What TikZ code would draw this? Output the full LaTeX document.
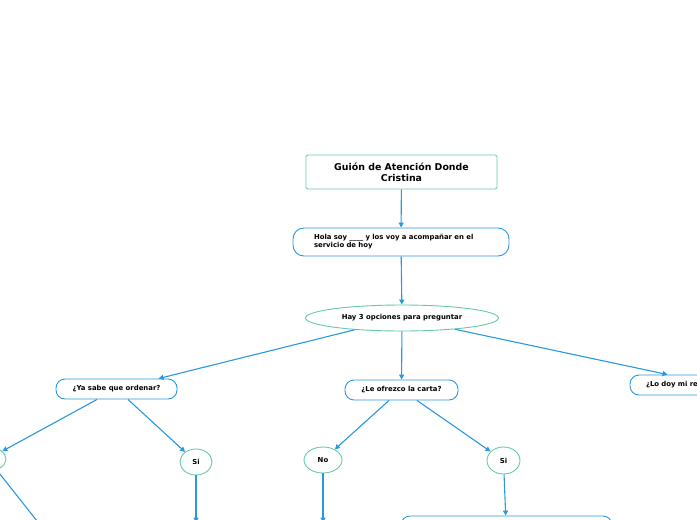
\documentclass[tikz,border=0pt]{standalone}
\usepackage{fontspec}
\setmainfont{DejaVu Sans}
\usetikzlibrary{shapes.geometric,arrows.meta}
\definecolor{lblue}{RGB}{40,152,224}
\definecolor{lteal}{RGB}{100,202,168}
\begin{document}
\begin{tikzpicture}[x=1pt,y=-1pt,
  conn/.style={draw=lblue, line width=1.1pt, -{Triangle[length=5pt,width=5pt]}},
  titlebox/.style={draw=lteal, line width=0.9pt, rounded corners=1.5pt, inner sep=0pt, align=center, font=\bfseries\fontsize{9.4}{11}\selectfont},
  rbox/.style={draw=lblue, line width=0.9pt, rounded corners=9pt, inner sep=0pt, minimum height=20pt, font=\bfseries\fontsize{6.9}{8}\selectfont},
  oval/.style={ellipse, draw=lteal, line width=0.9pt, inner sep=0pt, font=\bfseries\fontsize{6.9}{8}\selectfont}]
\useasboundingbox (0,0) rectangle (697,520);
\clip (0,0) rectangle (697,520);
\node[titlebox, minimum width=191pt, minimum height=34pt] (title) at (401.5,172) {Guión de Atención Donde\\Cristina};
\node[rbox, minimum width=216pt, minimum height=28pt, rounded corners=11pt, text width=174pt, align=left] (hola) at (401,242) {Hola soy \_\_\_\_ y los voy a acompañar en el\\servicio de hoy};
\node[oval, minimum width=193pt, minimum height=26pt] (hay) at (402,318) {Hay 3 opciones para preguntar};
\node[rbox, minimum width=121pt] (ya) at (116.5,389) {¿Ya sabe que ordenar?};
\node[rbox, minimum width=113pt] (carta) at (401.5,390) {¿Le ofrezco la carta?};
\node[rbox, minimum width=137pt, text width=105pt, align=left] (lodoy) at (698.5,385) {¿Lo doy mi re};
\node[oval, minimum width=32pt, minimum height=26pt] (siL) at (196,462) {Si};
\node[oval, minimum width=38pt, minimum height=26pt] (noC) at (323,460) {No};
\node[oval, minimum width=33pt, minimum height=27pt] (siR) at (503.5,460.5) {Si};
\node[oval, minimum width=36pt, minimum height=24pt] (noL) at (-12,459) {};
\node[rbox, minimum width=211pt, minimum height=40pt] (bot) at (506.5,536) {};
\node[rbox, minimum width=60pt, minimum height=30pt] (boxC) at (323,538) {};
\node[rbox, minimum width=60pt, minimum height=30pt] (boxL) at (196,538) {};
\coordinate (cL) at (60,550);
\draw[conn] (title) -- (hola);
\draw[conn] (hola) -- (hay);
\draw[conn] (hay) -- (ya);
\draw[conn] (hay) -- (carta);
\draw[conn] (hay) -- ([xshift=38pt]lodoy.north west);
\draw[conn] ([xshift=-19.5pt]ya.south) -- (noL);
\draw[conn] ([xshift=11.5pt]ya.south) -- (siL);
\draw[conn] ([xshift=-12.5pt]carta.south) -- (noC);
\draw[conn] ([xshift=15.5pt]carta.south) -- (siR);
\draw[conn] (siL) -- (boxL);
\draw[conn] (noC) -- (boxC);
\draw[conn] (siR) -- (bot);
\draw[conn] (noL) -- (cL);
\end{tikzpicture}
\end{document}
